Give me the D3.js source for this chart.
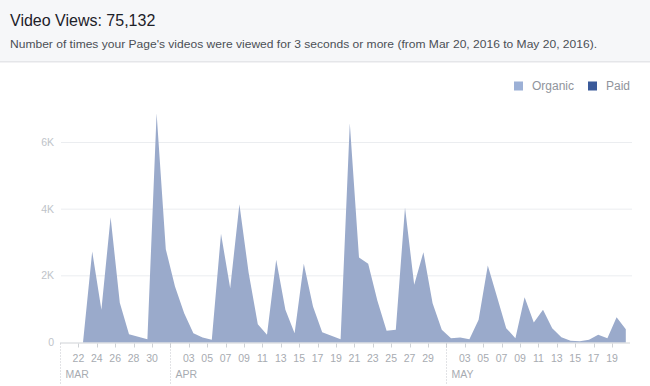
<!DOCTYPE html>
<html><head><meta charset="utf-8">
<script src="https://cdnjs.cloudflare.com/ajax/libs/d3/7.8.5/d3.min.js"></script>
<style>
body{margin:0;background:#fff;font-family:"Liberation Sans",Arial,Helvetica,sans-serif;}
svg{display:block}
</style>
</head><body>
<svg id="chart" width="650" height="386"></svg>
<script>
// ---- data ----
const title = "Video Views: 75,132";
const subtitle = "Number of times your Page's videos were viewed for 3 seconds or more (from Mar 20, 2016 to May 20, 2016).";
const firstDay = "2016-03-20";
const lastDay = "2016-05-20";
const seriesNames = ["Organic", "Paid"];
const organic = [
  0, 0, 0, 2730, 980, 3760, 1190, 250, 170, 100,
  6880, 2800, 1680, 880, 280, 150, 80, 3260, 1630, 4150,
  2100, 550, 230, 2480, 980, 280, 2360, 1080, 310, 200,
  100, 6580, 2550, 2360, 1250, 350, 380, 4050, 1730, 2710,
  1180, 380, 130, 150, 100, 680, 2310, 1370, 430, 130,
  1360, 600, 980, 430, 160, 50, 40, 80, 230, 130,
  760, 400
];
const paid = [
  0,0,0,0,0,0,0,0,0,0, 0,0,0,0,0,0,0,0,0,0,
  0,0,0,0,0,0,0,0,0,0, 0,0,0,0,0,0,0,0,0,0,
  0,0,0,0,0,0,0,0,0,0, 0,0,0,0,0,0,0,0,0,0,
  0,0
];
const yTicks = [0, 2000, 4000, 6000];
const yTickLabels = ["0", "2K", "4K", "6K"];
const monthStarts = ["2016-03-20", "2016-04-01", "2016-05-01"];
const monthLabels = ["MAR", "APR", "MAY"];
const firstTick = "2016-03-22";

// ---- setup ----
const svg = d3.select("#chart");
const parse = d3.utcParse("%Y-%m-%d");
const d0 = parse(firstDay), d1 = d3.utcDay.offset(parse(lastDay), 1);
const days = d3.utcDay.range(d0, d1);
const data = days.map((d, i) => ({date: d3.utcHour.offset(d, 12), organic: organic[i], paid: paid[i]}));

const x = d3.scaleUtc().domain([d0, d1]).range([60, 630.4]);
const y = d3.scaleLinear().domain([0, 6000]).range([342.5, 142.5]);

// header
svg.append("rect").attr("x",0).attr("y",0).attr("width",650).attr("height",61).attr("fill","#f6f7f9");
svg.append("rect").attr("x",0).attr("y",61).attr("width",650).attr("height",1.5).attr("fill","#e5e6e9");
svg.append("text").attr("x",10).attr("y",26).attr("font-size",16).attr("fill","#1d2129").text(title);
svg.append("text").attr("x",10).attr("y",48).attr("font-size",11.5).attr("fill","#4b4f56")
  .attr("textLength",587).attr("lengthAdjust","spacingAndGlyphs").text(subtitle);

// legend
const legendColors = ["#9cb0d6", "#3b5a9a"];
const legendX = [514, 588];
seriesNames.forEach((n, i) => {
  svg.append("rect").attr("x", legendX[i]).attr("y", 81.5).attr("width", 9).attr("height", 9).attr("fill", legendColors[i]);
  svg.append("text").attr("x", legendX[i] + 18).attr("y", 90).attr("font-size", 12).attr("fill", "#90949c").text(n);
});

// gridlines & y labels
yTicks.forEach((t, i) => {
  if (t > 0) {
    svg.append("line").attr("x1", 61).attr("x2", 632).attr("y1", y(t)).attr("y2", y(t))
      .attr("stroke", "#ebedf0").attr("stroke-width", 1);
  }
  svg.append("text").attr("x", 54).attr("y", y(t) + 3.5).attr("text-anchor", "end")
    .attr("font-size", 10.5).attr("fill", "#bec3c9").text(yTickLabels[i]);
});

// areas (stacked)
const stack = d3.stack().keys(["organic", "paid"]);
const stacked = stack(data);
const area = d3.area().x(d => x(d.data.date)).y0(d => y(d[0])).y1(d => y(d[1])).curve(d3.curveLinear);
const areaColors = ["#9aaacb", "#3b5a9a"];
svg.selectAll("path.area").data(stacked).join("path").attr("class","area")
  .attr("d", area).attr("fill", (d, i) => areaColors[i]);

// x axis baseline
svg.append("line").attr("x1", 60).attr("x2", 630).attr("y1", y(0) + 0.5).attr("y2", y(0) + 0.5)
  .attr("stroke", "#cfd2d6").attr("stroke-width", 1);

// ticks every 2 days
const tickDates = d3.utcDay.range(parse(firstTick), d1, 2);
const fmt = d3.utcFormat("%d");
tickDates.forEach(t => {
  const px = Math.round(x(t)) + 0.5;
  svg.append("line").attr("x1", px).attr("x2", px).attr("y1", y(0) + 1).attr("y2", y(0) + 5)
    .attr("stroke", "#cfd2d6").attr("stroke-width", 1);
  if (t.getUTCDate() !== 1) {
    svg.append("text").attr("x", x(t)).attr("y", 362).attr("text-anchor", "middle")
      .attr("font-size", 10.5).attr("fill", "#a7abb1").text(fmt(t));
  }
});

// month separators and labels
monthStarts.forEach((m, i) => {
  const px = Math.round(x(parse(m))) + 0.5;
  svg.append("line").attr("x1", px).attr("x2", px).attr("y1", y(0) + 1).attr("y2", 384)
    .attr("stroke", "#c4c7cc").attr("stroke-width", 1).attr("stroke-dasharray", "1,2");
  svg.append("text").attr("x", px + 5).attr("y", 378).attr("font-size", 10.5)
    .attr("fill", "#a7abb1").text(monthLabels[i]);
});
</script>
</body></html>
